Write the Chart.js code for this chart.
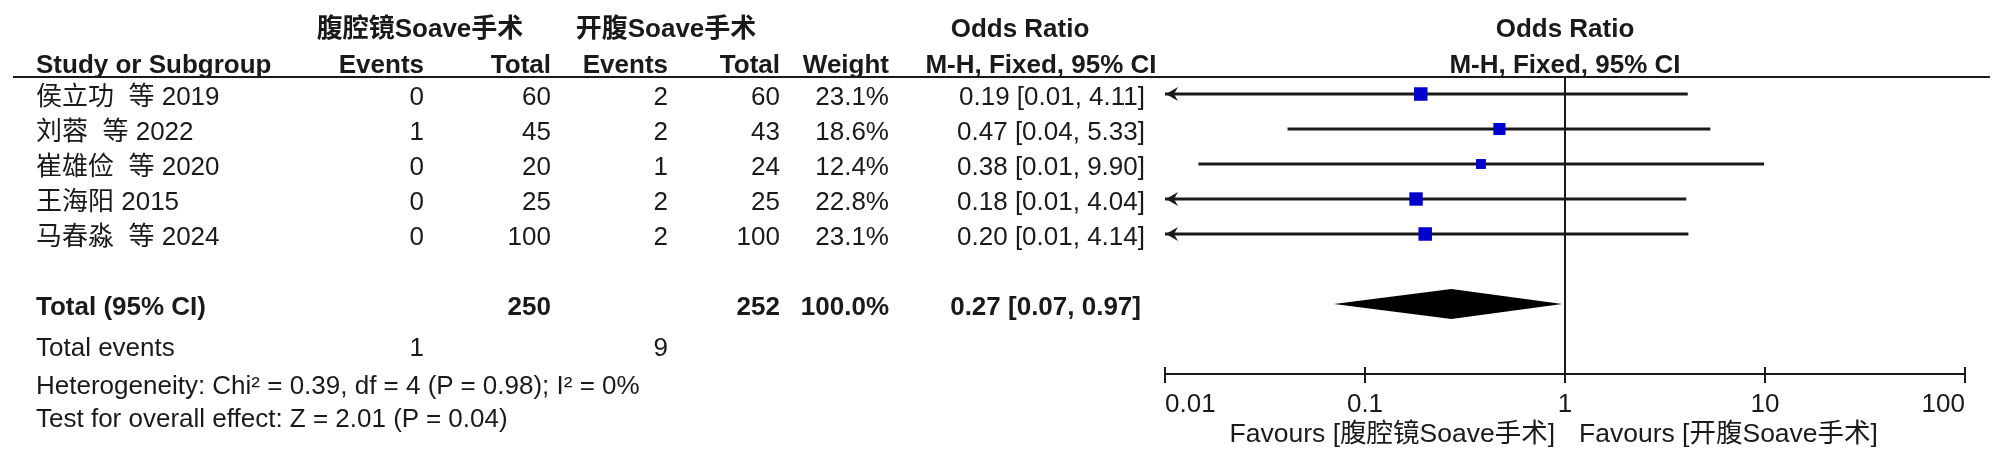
<!DOCTYPE html>
<html>
<head>
<meta charset="utf-8">
<script src="https://cdn.jsdelivr.net/npm/chart.js@4.4.0/dist/chart.umd.min.js"></script>
<style>
  html, body { margin: 0; padding: 0; background: #fff; }
  #wrap { position: relative; width: 2000px; height: 466px; overflow: hidden;
          font-family: "Liberation Sans", Arial, "Noto Sans CJK SC", sans-serif; color: #1a1a1a; }
  #plot { position: absolute; left: 0; top: 0; }
  .t { position: absolute; white-space: pre; font-size: 26px; line-height: 30px; }
  .b { font-weight: bold; }
  .rule { position: absolute; left: 13px; width: 1977px; top: 76px; height: 2px; background: #1a1a1a; }
</style>
</head>
<body>
<div id="wrap">
  <canvas id="plot" width="2000" height="466"></canvas>
  <div class="rule"></div>
</div>
<script>
// study rows
const studies = ["侯立功  等 2019", "刘蓉  等 2022", "崔雄俭  等 2020", "王海阳 2015", "马春淼  等 2024"];
const eventsA = [0, 1, 0, 0, 0];
const totalA = [60, 45, 20, 25, 100];
const eventsB = [2, 2, 1, 2, 2];
const totalB = [60, 43, 24, 25, 100];
const weights = [23.1, 18.6, 12.4, 22.8, 23.1];
const orEst = [0.19, 0.47, 0.38, 0.18, 0.20];
const ciLow = [0.009, 0.041, 0.0147, 0.0084, 0.0093];
const ciHigh = [4.11, 5.33, 9.90, 4.04, 4.14];

// pooled result
const pooledEst = 0.27;
const pooledLow = 0.07;
const pooledHigh = 0.97;

// axis
const tickValues = [0.01, 0.1, 1, 10, 100];
const tickLabels = ["0.01", "0.1", "1", "10", "100"];

const groupA = "腹腔镜Soave手术";
const groupB = "开腹Soave手术";

const totalRow = studies.length + 1;
const yMin = -0.486, yMax = 8;
const ink = "#1a1a1a";

Chart.defaults.font.family = "'Liberation Sans', Arial, sans-serif";

const datasets = [];

// squares, side grows with sqrt(weight)
datasets.push({
  type: "scatter",
  data: orEst.map((v, i) => ({ x: v, y: i })),
  pointStyle: "rect",
  pointRadius: weights.map(w => 13.5 * Math.sqrt(w / 23.1) / Math.SQRT2),
  pointBackgroundColor: "#0000cc",
  pointBorderWidth: 0,
  order: 0
});

// confidence interval lines
studies.forEach((s, i) => {
  datasets.push({
    type: "line",
    data: [{ x: ciLow[i], y: i }, { x: ciHigh[i], y: i }],
    borderColor: ink,
    borderWidth: 3,
    pointRadius: 0,
    order: 2
  });
});

// diamond = upper edge + lower edge filled between
const dh = 0.43;
datasets.push({
  type: "line",
  data: [{ x: pooledLow, y: totalRow }, { x: pooledEst, y: totalRow - dh }, { x: pooledHigh, y: totalRow }],
  borderWidth: 0, pointRadius: 0, order: 1
});
datasets.push({
  type: "line",
  data: [{ x: pooledLow, y: totalRow }, { x: pooledEst, y: totalRow + dh }, { x: pooledHigh, y: totalRow }],
  borderWidth: 0, pointRadius: 0, fill: "-1", backgroundColor: "#000", order: 1
});

// line of no effect
datasets.push({
  type: "line",
  data: [{ x: 1, y: yMin }, { x: 1, y: yMax }],
  borderColor: ink, borderWidth: 2, pointRadius: 0, order: 3
});

const forestExtras = {
  id: "forestExtras",
  afterDraw(chart) {
    const ctx = chart.ctx, x = chart.scales.x, y = chart.scales.y;
    ctx.save();
    ctx.strokeStyle = ink;
    ctx.fillStyle = ink;
    ctx.lineWidth = 2;
    // tick marks crossing the axis
    tickValues.forEach(v => {
      const px = x.getPixelForValue(v);
      ctx.beginPath();
      ctx.moveTo(px, x.top - 7);
      ctx.lineTo(px, x.top + 9);
      ctx.stroke();
    });
    // arrows for intervals running off the left edge
    studies.forEach((s, i) => {
      if (ciLow[i] >= x.min) return;
      const tip = x.getPixelForValue(x.min) + 1, py = y.getPixelForValue(i);
      ctx.beginPath();
      ctx.moveTo(tip, py);
      ctx.lineTo(tip + 12, py - 7);
      ctx.lineTo(tip + 8, py);
      ctx.lineTo(tip + 12, py + 7);
      ctx.closePath();
      ctx.fill();
    });
    ctx.restore();
  }
};

const chart = new Chart(document.getElementById("plot"), {
  data: { datasets },
  options: {
    responsive: false,
    animation: false,
    devicePixelRatio: 1,
    layout: { padding: { left: 1165, right: 35, top: 77, bottom: 0 }, autoPadding: false },
    plugins: { legend: { display: false }, tooltip: { enabled: false } },
    scales: {
      x: {
        type: "logarithmic",
        min: tickValues[0],
        max: tickValues[tickValues.length - 1],
        afterBuildTicks: s => { s.ticks = tickValues.map(v => ({ value: v })); },
        afterFit: s => { s.height = 466 - 374; },
        grid: { drawOnChartArea: false, drawTicks: false },
        border: { display: true, color: ink, width: 2 },
        ticks: {
          align: "inner", padding: 15, color: ink, autoSkip: false, maxRotation: 0,
          font: { size: 26 },
          callback: (v, i) => tickLabels[i]
        }
      },
      y: { type: "linear", display: false, reverse: true, min: yMin, max: yMax }
    }
  },
  plugins: [forestExtras]
});

// table text
const wrap = document.getElementById("wrap");
function put(str, x, y, align, bold, size) {
  const d = document.createElement("div");
  d.className = "t" + (bold ? " b" : "");
  d.textContent = str;
  if (size) d.style.fontSize = size + "px";
  d.style.top = (y - 15) + "px";
  if (align === "right") d.style.right = (2000 - x) + "px";
  else if (align === "center") { d.style.left = x + "px"; d.style.transform = "translateX(-50%)"; }
  else d.style.left = x + "px";
  wrap.appendChild(d);
}

const col = { name: 36, evA: 424, totA: 551, evB: 668, totB: 780, wt: 889, or: 1145 };
const plotMid = chart.scales.x.getPixelForValue(1);
const yPix = v => chart.scales.y.getPixelForValue(v) + 2;

put(groupA, 420, 28, "center", true);
put(groupB, 666, 28, "center", true);
put("Odds Ratio", 1020, 28, "center", true);
put("Odds Ratio", plotMid, 28, "center", true);

put("Study or Subgroup", col.name, 64, "left", true);
put("Events", col.evA, 64, "right", true);
put("Total", col.totA, 64, "right", true);
put("Events", col.evB, 64, "right", true);
put("Total", col.totB, 64, "right", true);
put("Weight", col.wt, 64, "right", true);
put("M-H, Fixed, 95% CI", 1041, 64, "center", true);
put("M-H, Fixed, 95% CI", plotMid, 64, "center", true);

const fmt = (e, l, h) => e.toFixed(2) + " [" + l.toFixed(2) + ", " + h.toFixed(2) + "]";
studies.forEach((s, i) => {
  const py = yPix(i);
  put(s, col.name, py, "left");
  put(String(eventsA[i]), col.evA, py, "right");
  put(String(totalA[i]), col.totA, py, "right");
  put(String(eventsB[i]), col.evB, py, "right");
  put(String(totalB[i]), col.totB, py, "right");
  put(weights[i].toFixed(1) + "%", col.wt, py, "right");
  put(fmt(orEst[i], ciLow[i], ciHigh[i]), col.or, py, "right");
});

const sum = a => a.reduce((p, c) => p + c, 0);
const ty = yPix(totalRow);
put("Total (95% CI)", col.name, ty, "left", true);
put(String(sum(totalA)), col.totA, ty, "right", true);
put(String(sum(totalB)), col.totB, ty, "right", true);
put("100.0%", col.wt, ty, "right", true);
put(fmt(pooledEst, pooledLow, pooledHigh), col.or - 4, ty, "right", true);

put("Total events", col.name, 347, "left");
put(String(sum(eventsA)), col.evA, 347, "right");
put(String(sum(eventsB)), col.evB, 347, "right");
put("Heterogeneity: Chi² = 0.39, df = 4 (P = 0.98); I² = 0%", col.name, 385, "left");
put("Test for overall effect: Z = 2.01 (P = 0.04)", col.name, 418, "left");

put("Favours [" + groupA + "]", plotMid - 10, 433, "right", false, 26.5);
put("Favours [" + groupB + "]", plotMid + 14, 433, "left", false, 26.5);
</script>
</body>
</html>
